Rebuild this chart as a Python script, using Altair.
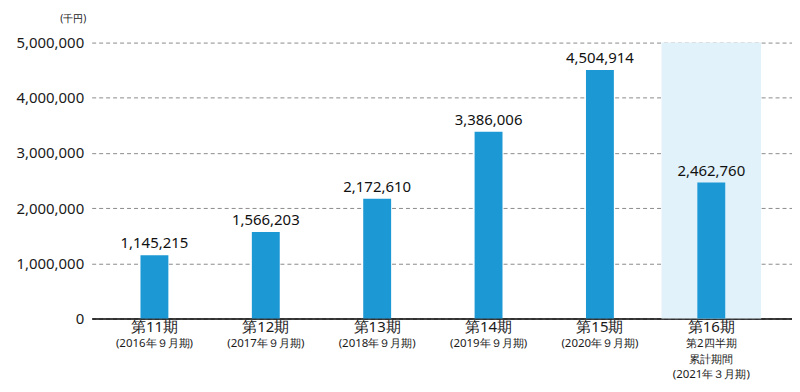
import altair as alt
import pandas as pd

cats = ["第11期", "第12期", "第13期", "第14期", "第15期", "第16期"]
sub1 = ["(2016年９月期)", "(2017年９月期)", "(2018年９月期)", "(2019年９月期)",
        "(2020年９月期)", "第2四半期"]
sub2 = ["", "", "", "", "", "累計期間"]
sub3 = ["", "", "", "", "", "(2021年３月期)"]
values = [1145215, 1566203, 2172610, 3386006, 4504914, 2462760]
highlight = ["第16期"]
y_ticks = [0, 1000000, 2000000, 3000000, 4000000, 5000000]

df = pd.DataFrame({"cat": cats, "sub1": sub1, "sub2": sub2, "sub3": sub3,
                   "value": values})
bg = pd.DataFrame({"cat": highlight, "top": [5000000], "bottom": [0]})

FONT = "Noto Sans"
xscale = alt.Scale(domain=cats, paddingInner=0, paddingOuter=0.144, align=0.22)
x = alt.X("cat:N", scale=xscale, sort=cats,
          axis=alt.Axis(title=None, labels=False, ticks=False, domain=True,
                        domainColor="#000000", domainWidth=1.5, grid=False))
yscale = alt.Scale(domain=[0, 5000000], nice=False)

bg_layer = alt.Chart(bg).mark_bar(size=100, color="#e1f2fa").encode(
    x=x,
    y=alt.Y("top:Q", scale=yscale,
            axis=alt.Axis(values=y_ticks, format=",d", ticks=False, domain=False,
                          grid=True, gridColor="#8c8c8c", gridDash=[4, 3], gridWidth=1,
                          labelFont=FONT, labelFontSize=15, labelColor="#1a1a1a",
                          labelPadding=8,
                          title="(千円)", titleAngle=0, titleFont=FONT, titleFontSize=10,
                          titleFontWeight="normal", titleColor="#1a1a1a",
                          titleX=-19, titleY=-24, titleAlign="center",
                          titleBaseline="middle")),
    y2="bottom:Q",
)

bars = alt.Chart(df).mark_bar(size=28, color="#1c98d5").encode(
    x=x, y=alt.Y("value:Q", scale=yscale)
)

vals = alt.Chart(df).mark_text(font=FONT, fontSize=15, color="#111111", dy=-7,
                               baseline="alphabetic").encode(
    x=x, y=alt.Y("value:Q", scale=yscale), text=alt.Text("value:Q", format=",d")
)

line1 = alt.Chart(df).mark_text(font=FONT, fontSize=15, color="#1a1a1a",
                                baseline="middle").encode(
    x=x, y=alt.value(286), text="cat:N"
)


def sub_layer(field, ypix):
    return alt.Chart(df).transform_filter(f"datum.{field} != ''").mark_text(
        font=FONT, fontSize=11.5, color="#1a1a1a", baseline="middle"
    ).encode(x=x, y=alt.value(ypix), text=f"{field}:N")


chart = alt.layer(bg_layer, bars, vals, line1,
                  sub_layer("sub1", 303), sub_layer("sub2", 318.5),
                  sub_layer("sub3", 334)).properties(
    width=703, height=277,
    autosize=alt.AutoSizeParams(type="none"),
    padding={"left": 84, "top": 34, "right": 0, "bottom": 65},
).configure_view(stroke=None)

chart.save("out.html", embed_options={"renderer": "svg", "actions": False})
